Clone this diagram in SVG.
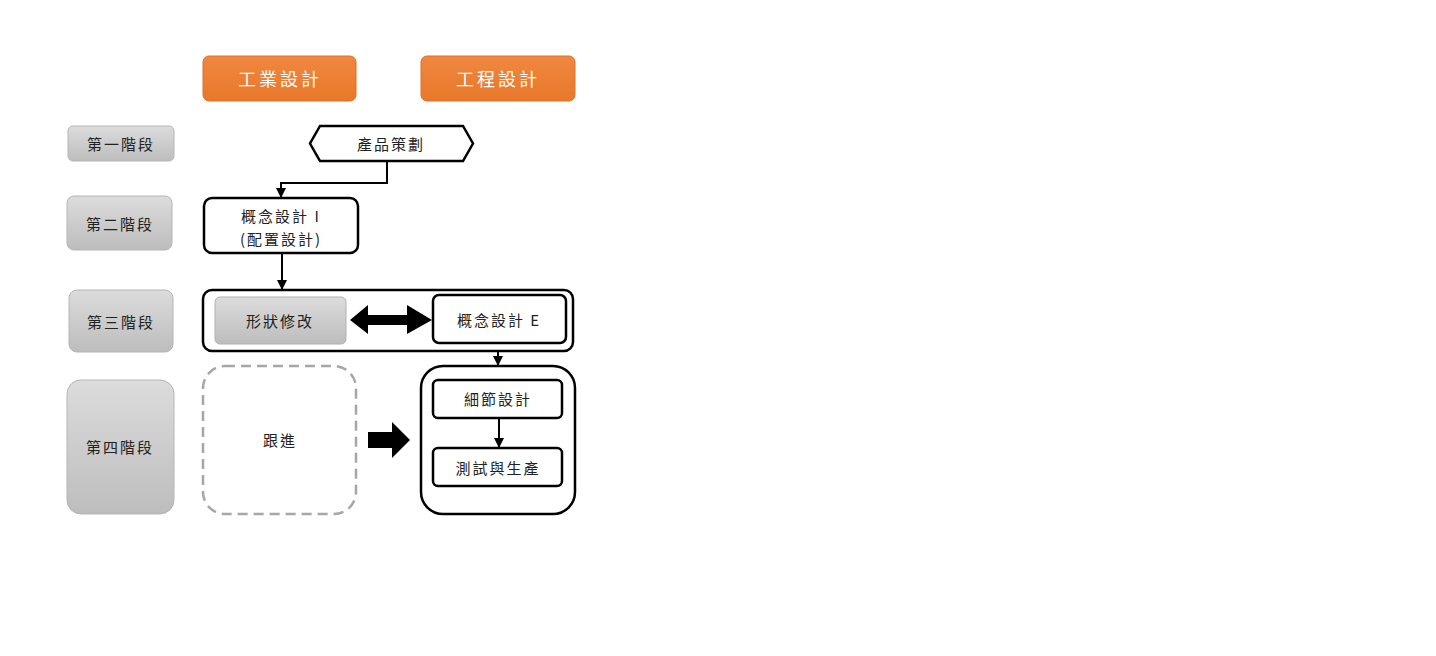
<svg xmlns="http://www.w3.org/2000/svg" width="1436" height="656" viewBox="0 0 1436 656">
<defs>
<linearGradient id="og" x1="0" y1="0" x2="0" y2="1"><stop offset="0" stop-color="#F0873F"/><stop offset="1" stop-color="#E8782A"/></linearGradient>
<linearGradient id="gg" x1="0" y1="0" x2="0" y2="1"><stop offset="0" stop-color="#DCDCDC"/><stop offset="1" stop-color="#BDBDBD"/></linearGradient>
<marker id="ah" viewBox="0 0 10 10" refX="9" refY="5" markerWidth="5" markerHeight="5" orient="auto"><path d="M0,0 L10,5 L0,10 z" fill="#000"/></marker>
<style>
.t{font-family:"Noto Sans CJK TC","Noto Sans CJK SC",sans-serif;font-size:15px;fill:#222;text-anchor:middle;dominant-baseline:central;letter-spacing:2px}
.w{font-family:"Noto Sans CJK TC","Noto Sans CJK SC",sans-serif;font-size:18px;fill:#fff;text-anchor:middle;dominant-baseline:central;letter-spacing:3px}
.org{fill:url(#og);stroke:#D9722B;stroke-width:1}
.stg{fill:url(#gg);stroke:#B5B5B5;stroke-width:1}
.bx{fill:#fff;stroke:#000;stroke-width:2.5}
.ln{fill:none;stroke:#000;stroke-width:2;marker-end:url(#ah)}
</style>
</defs>
<rect width="1436" height="656" fill="#fff"/>
<g id="hdr-industrial"><rect class="org" x="203" y="56" width="153" height="45" rx="6"/><text class="w" x="280" y="78">工業設計</text></g>
<g id="hdr-engineering"><rect class="org" x="421" y="56" width="154" height="45" rx="6"/><text class="w" x="498" y="78">工程設計</text></g>
<g id="stage1"><rect class="stg" x="68" y="126" width="106" height="35" rx="5"/><text class="t" x="121" y="143">第一階段</text></g>
<g id="stage2"><rect class="stg" x="67" y="196" width="105" height="54" rx="7"/><text class="t" x="120" y="223">第二階段</text></g>
<g id="stage3"><rect class="stg" x="69" y="290" width="104" height="62" rx="8"/><text class="t" x="121" y="321">第三階段</text></g>
<g id="stage4"><rect class="stg" x="67" y="380" width="107" height="134" rx="14"/><text class="t" x="120" y="446">第四階段</text></g>
<g id="planning"><polygon class="bx" points="320,126 463,126 473,143.5 463,161 320,161 310,143.5"/><text class="t" x="391" y="143">產品策劃</text></g>
<g id="concept-i"><rect class="bx" x="204" y="198" width="154" height="55" rx="8"/><text class="t" x="281" y="215">概念設計 I</text><text class="t" x="281" y="238">(配置設計)</text></g>
<g id="stage3-group"><rect class="bx" x="203" y="290" width="370" height="61" rx="9"/></g>
<g id="shape-mod"><rect x="215" y="297" width="131" height="47" rx="5" fill="url(#gg)" stroke="#B0B0B0" stroke-width="1"/><text class="t" x="280" y="320">形狀修改</text></g>
<g id="concept-e"><rect class="bx" x="433" y="295" width="133" height="48" rx="6"/><text class="t" x="499" y="319">概念設計 E</text></g>
<g id="follow"><rect x="203" y="366" width="153" height="148" rx="22" fill="#fff" stroke="#A6A6A6" stroke-width="2.5" stroke-dasharray="10 6"/><text class="t" x="280" y="439">跟進</text></g>
<g id="stage4-group"><rect class="bx" x="421" y="366" width="154" height="148" rx="22"/></g>
<g id="detail"><rect class="bx" x="433" y="380" width="129" height="38" rx="5"/><text class="t" x="498" y="398">細節設計</text></g>
<g id="test-prod"><rect class="bx" x="433" y="448" width="129" height="38" rx="5"/><text class="t" x="498" y="467">測試與生產</text></g>
<g id="connectors">
<polyline class="ln" points="387,161 387,183 281,183 281,197"/>
<line class="ln" x1="282" y1="253" x2="282" y2="289"/>
<line class="ln" x1="498" y1="351" x2="498" y2="365"/>
<line class="ln" x1="499" y1="418" x2="499" y2="447"/>
<polygon points="350,320 368,305 368,315 407,315 407,305 432,320 407,334 407,325 368,325 368,334" fill="#000"/>
<polygon points="368,432 392,432 392,422 410,440 392,458 392,448 368,448" fill="#000"/>
</g>
</svg>
